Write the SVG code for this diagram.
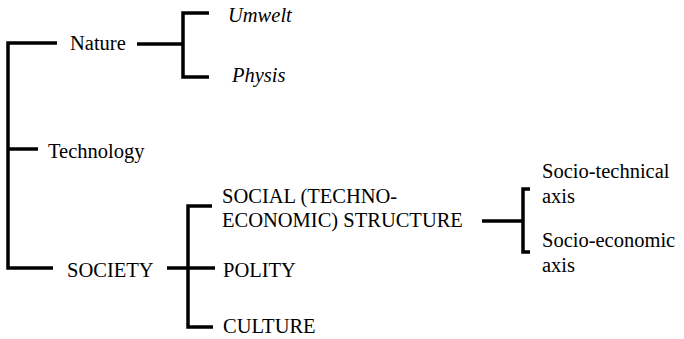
<svg xmlns="http://www.w3.org/2000/svg" width="684" height="339" viewBox="0 0 684 339">
<style>
text{font-family:"Liberation Serif","Times New Roman",serif;font-size:20.5px;fill:#000}
.i{font-style:italic}
.c{fill:none;stroke:#000;stroke-width:3.5;stroke-linejoin:miter}
</style>
<rect width="684" height="339" fill="#fff"/>
<g id="connectors">
<polyline class="c" points="57,43 8,43 8,268 53,268"/>
<line class="c" x1="8" y1="149" x2="38" y2="149"/>
<line class="c" x1="137" y1="44" x2="183" y2="44"/>
<polyline class="c" points="209,13 183,13 183,77 209,77"/>
<line class="c" x1="167" y1="268" x2="215" y2="268"/>
<polyline class="c" points="212,206 188,206 188,327 213,327"/>
<line class="c" x1="482" y1="221" x2="523" y2="221"/>
<polyline class="c" points="530,189 523,189 523,252 530,252"/>
</g>
<g id="nature"><text x="70" y="50">Nature</text></g>
<g id="umwelt"><text class="i" x="228" y="22">Umwelt</text></g>
<g id="physis"><text class="i" x="232" y="82">Physis</text></g>
<g id="technology"><text x="48" y="158">Technology</text></g>
<g id="society"><text x="67" y="277">SOCIETY</text></g>
<g id="social-structure"><text x="222" y="203">SOCIAL (TECHNO-</text><text x="222" y="227">ECONOMIC) STRUCTURE</text></g>
<g id="polity"><text x="223" y="277">POLITY</text></g>
<g id="culture"><text x="223" y="333">CULTURE</text></g>
<g id="socio-technical"><text x="542" y="178">Socio-technical</text><text x="542" y="203">axis</text></g>
<g id="socio-economic"><text x="542" y="247">Socio-economic</text><text x="542" y="272">axis</text></g>
</svg>
